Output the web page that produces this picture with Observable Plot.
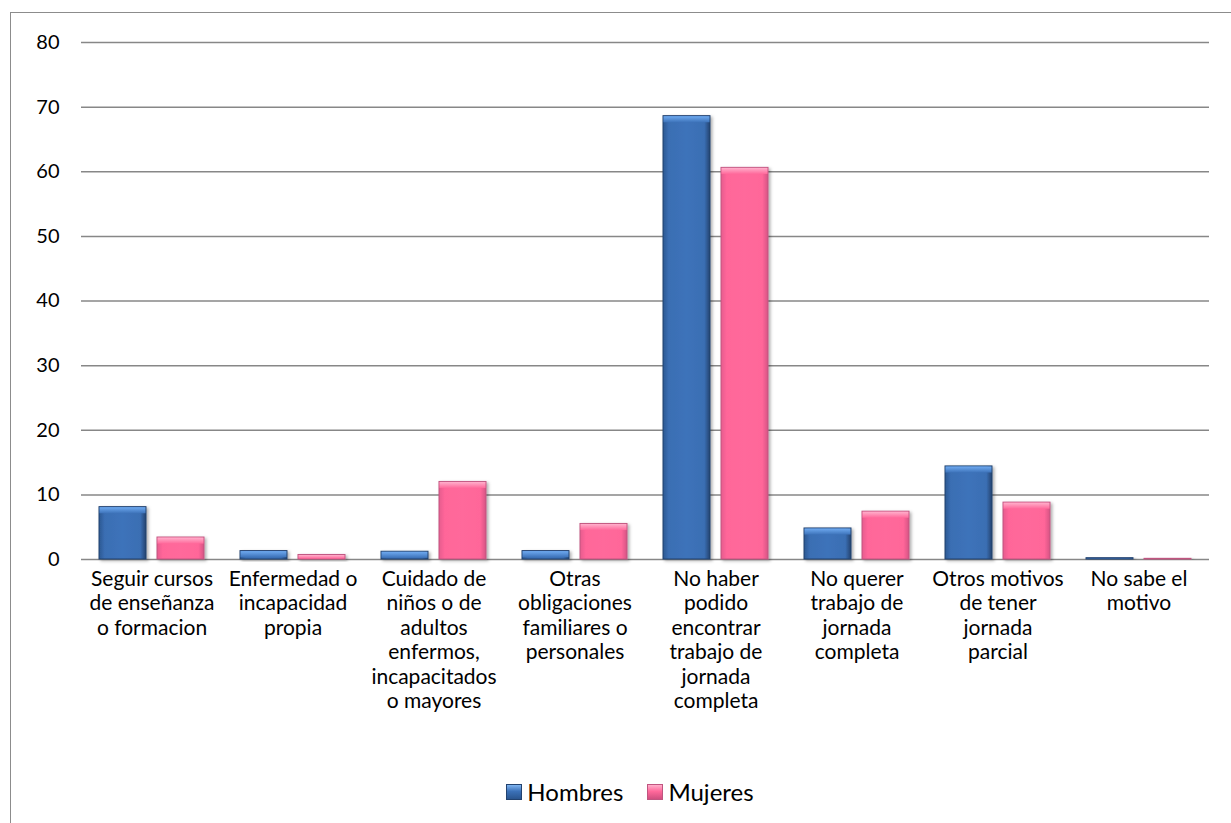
<!DOCTYPE html>
<html>
<head>
<meta charset="utf-8">
<script src="https://cdn.jsdelivr.net/npm/d3@7"></script>
<script src="https://cdn.jsdelivr.net/npm/@observablehq/plot@0.6"></script>
<style>
  html, body { margin: 0; padding: 0; background: #fff; }
  body { width: 1231px; height: 823px; position: relative; overflow: hidden; font-family: Lato, "Open Sans", sans-serif; }
  #frame { position: absolute; left: 10px; top: 12px; width: 1300px; height: 900px; border: 1.5px solid #8c8c8c; box-sizing: border-box; }
  #chart { position: absolute; left: 0; top: 0; }
  #legend { position: absolute; top: 777px; left: 10px; width: 1240px; display: flex; justify-content: center; align-items: center; font-size: 24px; color: #000; }
  .item { display: flex; align-items: center; margin: 0 12px; }
  .sw { width: 16px; height: 16px; margin-right: 5px; box-sizing: border-box; }
</style>
</head>
<body>
<div id="frame"></div>
<div id="chart"></div>
<div id="legend"></div>
<script>
const categories = [
  "Seguir cursos de enseñanza o formacion",
  "Enfermedad o incapacidad propia",
  "Cuidado de niños o de adultos enfermos, incapacitados o mayores",
  "Otras obligaciones familiares o personales",
  "No haber podido encontrar trabajo de jornada completa",
  "No querer trabajo de jornada completa",
  "Otros motivos de tener jornada parcial",
  "No sabe el motivo"
];
const tickLabels = [
  "Seguir cursos\nde enseñanza\no formacion",
  "Enfermedad o\nincapacidad\npropia",
  "Cuidado de\nniños o de\nadultos\nenfermos,\nincapacitados\no mayores",
  "Otras\nobligaciones\nfamiliares o\npersonales",
  "No haber\npodido\nencontrar\ntrabajo de\njornada\ncompleta",
  "No querer\ntrabajo de\njornada\ncompleta",
  "Otros motivos\nde tener\njornada\nparcial",
  "No sabe el\nmotivo"
];
const series = ["Hombres", "Mujeres"];
const hombres = [8.1, 1.3, 1.2, 1.3, 68.6, 4.8, 14.4, 0.2];
const mujeres = [3.4, 0.7, 12.0, 5.5, 60.6, 7.4, 8.8, 0.1];
const yTicks = [0, 10, 20, 30, 40, 50, 60, 70, 80];

const data = [];
categories.forEach((c, i) => {
  data.push({cat: c, sex: series[0], value: hombres[i]});
  data.push({cat: c, sex: series[1], value: mujeres[i]});
});
const labelOf = new Map(categories.map((c, i) => [c, tickLabels[i]]));
const colors = {Hombres: {fill: "url(#gH)", top: "url(#tH)", stroke: "#22426f"}, Mujeres: {fill: "url(#gM)", top: "url(#tM)", stroke: "#c05580"}};

const bevel = data.map(d => ({...d, y1: d.value, y2: Math.max(0, d.value - 1.1)}));

const chart = Plot.plot({
  width: 1231,
  height: 760,
  marginTop: 42,
  marginBottom: 201,
  marginLeft: 78,
  marginRight: 19,
  style: {fontFamily: "Lato, 'Open Sans', sans-serif", fontSize: "18px", color: "#000", background: "transparent"},
  fx: {domain: categories, padding: 0, label: null},
  x: {domain: series, paddingInner: 0.186, paddingOuter: 0.295, axis: null},
  y: {domain: [0, 80], ticks: yTicks, label: null},
  marks: [
    Plot.gridY(yTicks, {stroke: "#878787", strokeOpacity: 1, strokeWidth: 1.5}),
    Plot.axisY(yTicks, {tickSize: 0, tickPadding: 22, fontSize: 20, tickFormat: d => String(d), label: null}),
    Plot.barY(data, {fx: "cat", x: "sex", y: "value", fill: d => colors[d.sex].fill, stroke: d => colors[d.sex].stroke, strokeWidth: 1, className: "bar"}),
    Plot.rectY(bevel, {fx: "cat", x: "sex", y1: "y1", y2: "y2", fill: d => colors[d.sex].top, inset: 0.5}),
    Plot.axisFx({anchor: "bottom", tickSize: 0, tickPadding: 9, fontSize: 21, lineHeight: 1.165, tickFormat: c => labelOf.get(c), label: null})
  ]
});

const svg = chart.tagName.toLowerCase() === "svg" ? chart : chart.querySelector("svg");
const NS = "http://www.w3.org/2000/svg";
const defs = document.createElementNS(NS, "defs");
defs.innerHTML = `
  <linearGradient id="gH" x1="0" x2="1" y1="0" y2="0">
    <stop offset="0" stop-color="#2c5892"/>
    <stop offset="0.12" stop-color="#3a6eb3"/>
    <stop offset="0.5" stop-color="#3d73ba"/>
    <stop offset="0.88" stop-color="#3a6eb3"/>
    <stop offset="1" stop-color="#25436f"/>
  </linearGradient>
  <linearGradient id="gM" x1="0" x2="1" y1="0" y2="0">
    <stop offset="0" stop-color="#e65c8e"/>
    <stop offset="0.12" stop-color="#ff6699"/>
    <stop offset="0.5" stop-color="#ff699b"/>
    <stop offset="0.88" stop-color="#ff6699"/>
    <stop offset="1" stop-color="#d65384"/>
  </linearGradient>
  <linearGradient id="tH" x1="0" x2="0" y1="0" y2="1">
    <stop offset="0" stop-color="#6faaf0"/>
    <stop offset="1" stop-color="#3d73ba"/>
  </linearGradient>
  <linearGradient id="tM" x1="0" x2="0" y1="0" y2="1">
    <stop offset="0" stop-color="#ffb0cc"/>
    <stop offset="1" stop-color="#ff699b"/>
  </linearGradient>
  <filter id="sh" x="-20%" y="-20%" width="150%" height="150%">
    <feDropShadow dx="2" dy="1.5" stdDeviation="1.5" flood-color="#000" flood-opacity="0.3"/>
  </filter>`;
svg.insertBefore(defs, svg.firstChild);
svg.querySelectorAll("g.bar").forEach(g => g.setAttribute("filter", "url(#sh)"));
document.getElementById("chart").appendChild(chart);

const legend = document.getElementById("legend");
const swatchBg = {Hombres: "linear-gradient(180deg,#7fb4f0 0%,#3b71b8 45%,#2a558f 100%)", Mujeres: "linear-gradient(180deg,#ffb0cc 0%,#ff699b 45%,#d04f80 100%)"};
const swatchBorder = {Hombres: "#22426f", Mujeres: "#c05580"};
series.forEach(s => {
  const it = document.createElement("div");
  it.className = "item";
  const sw = document.createElement("div");
  sw.className = "sw";
  sw.style.background = swatchBg[s];
  sw.style.border = "1px solid " + swatchBorder[s];
  const t = document.createElement("span");
  t.textContent = s;
  it.appendChild(sw); it.appendChild(t);
  legend.appendChild(it);
});
</script>
</body>
</html>
